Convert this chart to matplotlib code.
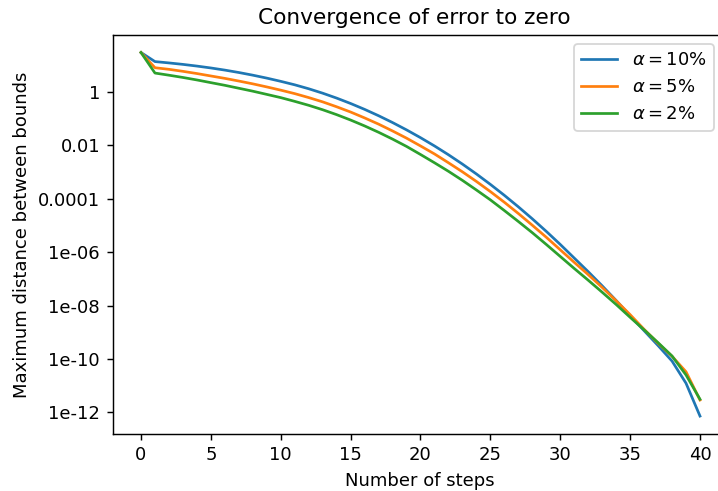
import matplotlib
matplotlib.use("Agg")
import matplotlib.pyplot as plt
import numpy as np
from matplotlib.ticker import FixedLocator, FuncFormatter, NullLocator

# Data: number of steps and log10 of the maximum distance between bounds
steps = list(range(0, 41))
labels = [r"$\alpha = 10\%$", r"$\alpha = 5\%$", r"$\alpha = 2\%$"]
log10_alpha10 = [1.48, 1.14, 1.09, 1.035, 0.972, 0.901, 0.821, 0.731, 0.631, 0.521,
                 0.40, 0.27, 0.122, -0.044, -0.228, -0.43, -0.65, -0.888, -1.144, -1.418,
                 -1.71, -2.02, -2.35, -2.70, -3.07, -3.46, -3.87, -4.30, -4.75, -5.22,
                 -5.71, -6.22, -6.73, -7.26, -7.81, -8.38, -8.94, -9.50, -10.08, -10.91,
                 -12.14]
log10_alpha5 = [1.48, 0.91, 0.85, 0.775, 0.692, 0.601, 0.511, 0.411, 0.306, 0.191,
                0.07, -0.06, -0.208, -0.369, -0.553, -0.75, -0.97, -1.203, -1.459, -1.728,
                -2.02, -2.32, -2.65, -2.99, -3.35, -3.73, -4.13, -4.55, -4.99, -5.44,
                -5.91, -6.38, -6.84, -7.32, -7.82, -8.34, -8.89, -9.41, -9.90, -10.48,
                -11.54]
log10_alpha2 = [1.48, 0.71, 0.63, 0.545, 0.452, 0.351, 0.251, 0.141, 0.031, -0.089,
                -0.21, -0.35, -0.498, -0.664, -0.848, -1.05, -1.27, -1.508, -1.764, -2.038,
                -2.34, -2.65, -2.97, -3.31, -3.67, -4.04, -4.44, -4.85, -5.27, -5.71,
                -6.16, -6.61, -7.05, -7.50, -7.96, -8.44, -8.91, -9.39, -9.89, -10.60,
                -11.51]
ytick_values = [1, 1e-2, 1e-4, 1e-6, 1e-8, 1e-10, 1e-12]
xtick_values = [0, 5, 10, 15, 20, 25, 30, 35, 40]

W, H, DPI = 718, 491, 130
fig = plt.figure(figsize=(W / DPI, H / DPI), dpi=DPI)
# axes box in pixels; the right edge lies beyond the picture, as in the reference
left, right, top, bottom = 112.7, 800.0, 35.0, 433.7
x0_px, px_per_step = 141.0, (700.0 - 141.0) / 40.0
ax = fig.add_axes([left / W, 1 - bottom / H, (right - left) / W, (bottom - top) / H])

colors = ["#1f77b4", "#ff7f0e", "#2ca02c"]
for series, lab, c in zip([log10_alpha10, log10_alpha5, log10_alpha2], labels, colors):
    ax.plot(steps, np.power(10.0, np.array(series)), color=c, lw=1.5, label=lab)

ax.set_yscale("log")
ax.set_xlim((left - x0_px) / px_per_step, (right - x0_px) / px_per_step)
ax.set_ylim(10 ** -12.80, 10 ** 2.136)
ax.yaxis.set_major_locator(FixedLocator(ytick_values))
ax.yaxis.set_minor_locator(NullLocator())
ax.yaxis.set_major_formatter(FuncFormatter(lambda v, p: "%g" % v))
ax.set_xticks(xtick_values)
ax.spines["right"].set_visible(False)

ax.set_xlabel("Number of steps")
ax.xaxis.label.set_x((420 - left) / (right - left))
ax.set_ylabel("Maximum distance between bounds")
ax.set_title("Convergence of error to zero", fontsize=12)
ax.title.set_x((414 - left) / (right - left))

ax.legend(loc="upper right", bbox_to_anchor=(714 / W, 1 - 44 / H),
          bbox_transform=fig.transFigure, borderaxespad=0)

fig.savefig("out.png", dpi=DPI)
